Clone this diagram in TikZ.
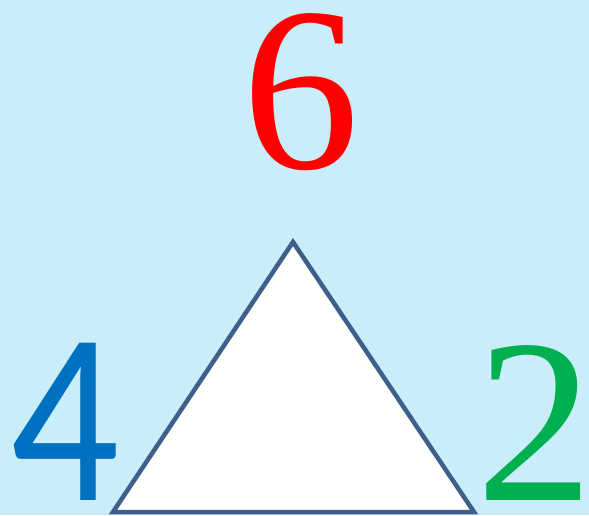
\documentclass[tikz,border=0pt]{standalone}
\usepackage{fontspec}
\setmainfont{Liberation Serif}
\newfontfamily\digitsans{Carlito}
\definecolor{bgblue}{RGB}{201,238,250}
\definecolor{triline}{RGB}{61,95,138}
\definecolor{sixred}{RGB}{255,0,0}
\definecolor{fourblue}{RGB}{0,112,192}
\definecolor{twogreen}{RGB}{0,176,80}
\tikzset{
  digit/.style={inner sep=0pt, anchor=base, text height=160pt, text depth=0pt, font=\fontsize{234}{240}\selectfont},
  tri/.style={draw=triline, fill=white, line width=4.5pt, line join=miter}
}
\begin{document}
\begin{tikzpicture}[x=1pt,y=-1pt]
\useasboundingbox (0,0) rectangle (589,515);
\fill[bgblue] (0,0) rectangle (589,515);
\coordinate (apex) at (293,242);
\coordinate (bl) at (113,512);
\coordinate (br) at (474,512);
\draw[tri] (apex) -- (br) -- (bl) -- cycle;
\node[digit, text=sixred] (six) at (301,168) {6};
\node[digit, text=fourblue, font=\digitsans\fontsize{245}{245}\selectfont, xscale=0.88] (four) at (65,500) {4};
\node[digit, text=twogreen] (two) at (535,500) {2};
\end{tikzpicture}
\end{document}
